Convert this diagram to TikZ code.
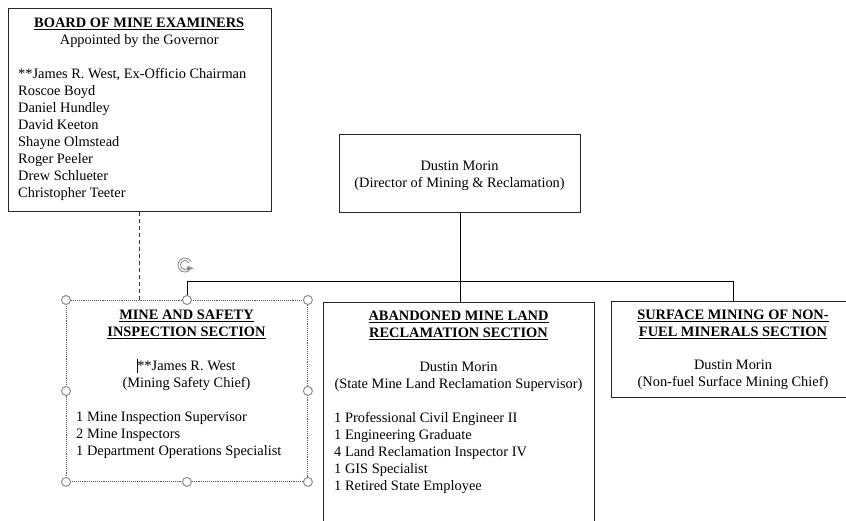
\documentclass[tikz,border=0pt]{standalone}
\usepackage{fontspec}
\setmainfont{Liberation Serif}
\usetikzlibrary{arrows.meta}
\begin{document}
\begin{tikzpicture}[x=1pt,y=-1pt,
  box/.style={draw=black!85, line width=0.8pt, fill=white, inner sep=0pt, anchor=north west},
  selbox/.style={draw=black!65, densely dotted, line width=0.9pt, fill=white, inner sep=0pt, anchor=north west},
  txt/.style={inner sep=0pt, font=\fontsize{14.4}{17}\selectfont, text=black},
  ctr/.style={txt, anchor=north, align=center},
  lft/.style={txt, anchor=north west, align=left},
  conn/.style={draw=black, line width=0.8pt},
  dashconn/.style={draw=black!80, line width=0.8pt, dash pattern=on 4pt off 3pt},
  handle/.style={draw=black!45, fill=white, line width=1pt}
]
\useasboundingbox (0,0) rectangle (846,520);
\clip (0,0) rectangle (846,520);
\fill[white] (0,0) rectangle (846,520);

% boxes
\node[box, minimum width=263.5pt, minimum height=203pt] (board) at (7.5,8) {};
\node[box, minimum width=241pt, minimum height=78pt] (dir) at (339,134) {};
\node[selbox, minimum width=241pt, minimum height=181pt] (mine) at (66,300) {};
\node[box, minimum width=271pt, minimum height=240pt] (aml) at (323,302) {};
\node[box, minimum width=244pt, minimum height=96pt] (smf) at (611,301) {};

% connectors
\coordinate (bus) at (459,281);
\draw[dashconn] (board.south) -- (board.south |- mine.north);
\draw[conn] (dir.south) -- (dir.south |- aml.north);
\draw[conn] (mine.north) -- (mine.north |- bus) -- (smf.north |- bus) -- (smf.north);

% texts
\node[ctr] (boardhead) at (139.25,15.1) {\strut\underline{\textbf{BOARD OF MINE EXAMINERS}}\\Appointed by the Governor};
\node[lft] (boardlist) at (18,66.1) {\strut**James R. West, Ex-Officio Chairman\\Roscoe Boyd\\Daniel Hundley\\David Keeton\\Shayne Olmstead\\Roger Peeler\\Drew Schlueter\\Christopher Teeter};

\node[ctr] (dirtext) at (459.5,158.1) {\strut Dustin Morin\\(Director of Mining \& Reclamation)};

\node[ctr] (minehead) at (186.5,307.1) {\strut\underline{\textbf{MINE AND SAFETY}}\\\underline{\textbf{INSPECTION SECTION}}};
\node[ctr] (mineperson) at (186.5,358.1) {\strut\llap{\rule[-3pt]{0.6pt}{14pt}}**James R. West\\(Mining Safety Chief)};
\node[lft] (minelist) at (76,409.1) {\strut 1 Mine Inspection Supervisor\\2 Mine Inspectors\\1 Department Operations Specialist};

\node[ctr] (amlhead) at (458.5,308.1) {\strut\underline{\textbf{ABANDONED MINE LAND}}\\\underline{\textbf{RECLAMATION SECTION}}};
\node[ctr] (amlperson) at (458.5,359.1) {\strut Dustin Morin\\(State Mine Land Reclamation Supervisor)};
\node[lft] (amllist) at (334,410.1) {\strut 1 Professional Civil Engineer II\\1 Engineering Graduate\\4 Land Reclamation Inspector IV\\1 GIS Specialist\\1 Retired State Employee};

\node[ctr] (smfhead) at (733,307.1) {\strut\underline{\textbf{SURFACE MINING OF NON-}}\\\underline{\textbf{FUEL MINERALS SECTION}}};
\node[ctr] (smfperson) at (733,357.1) {\strut Dustin Morin\\(Non-fuel Surface Mining Chief)};

% selection handles
\foreach \a in {north west,north,north east,west,east,south west,south,south east}
  \filldraw[handle] (mine.\a) circle[radius=4.5pt];
% rotate handle
\begin{scope}[shift={(185,265)}]
  \draw[black!45, line width=0.9pt] (-50:7pt) arc[start angle=-50, end angle=-330, radius=7pt];
  \draw[black!45, line width=0.9pt] (-50:4.5pt) arc[start angle=-50, end angle=-330, radius=4.5pt];
  \fill[black!45] (-20:9.5pt) -- (-20:2.5pt) -- (-70:6pt) -- cycle;
\end{scope}
\end{tikzpicture}
\end{document}
